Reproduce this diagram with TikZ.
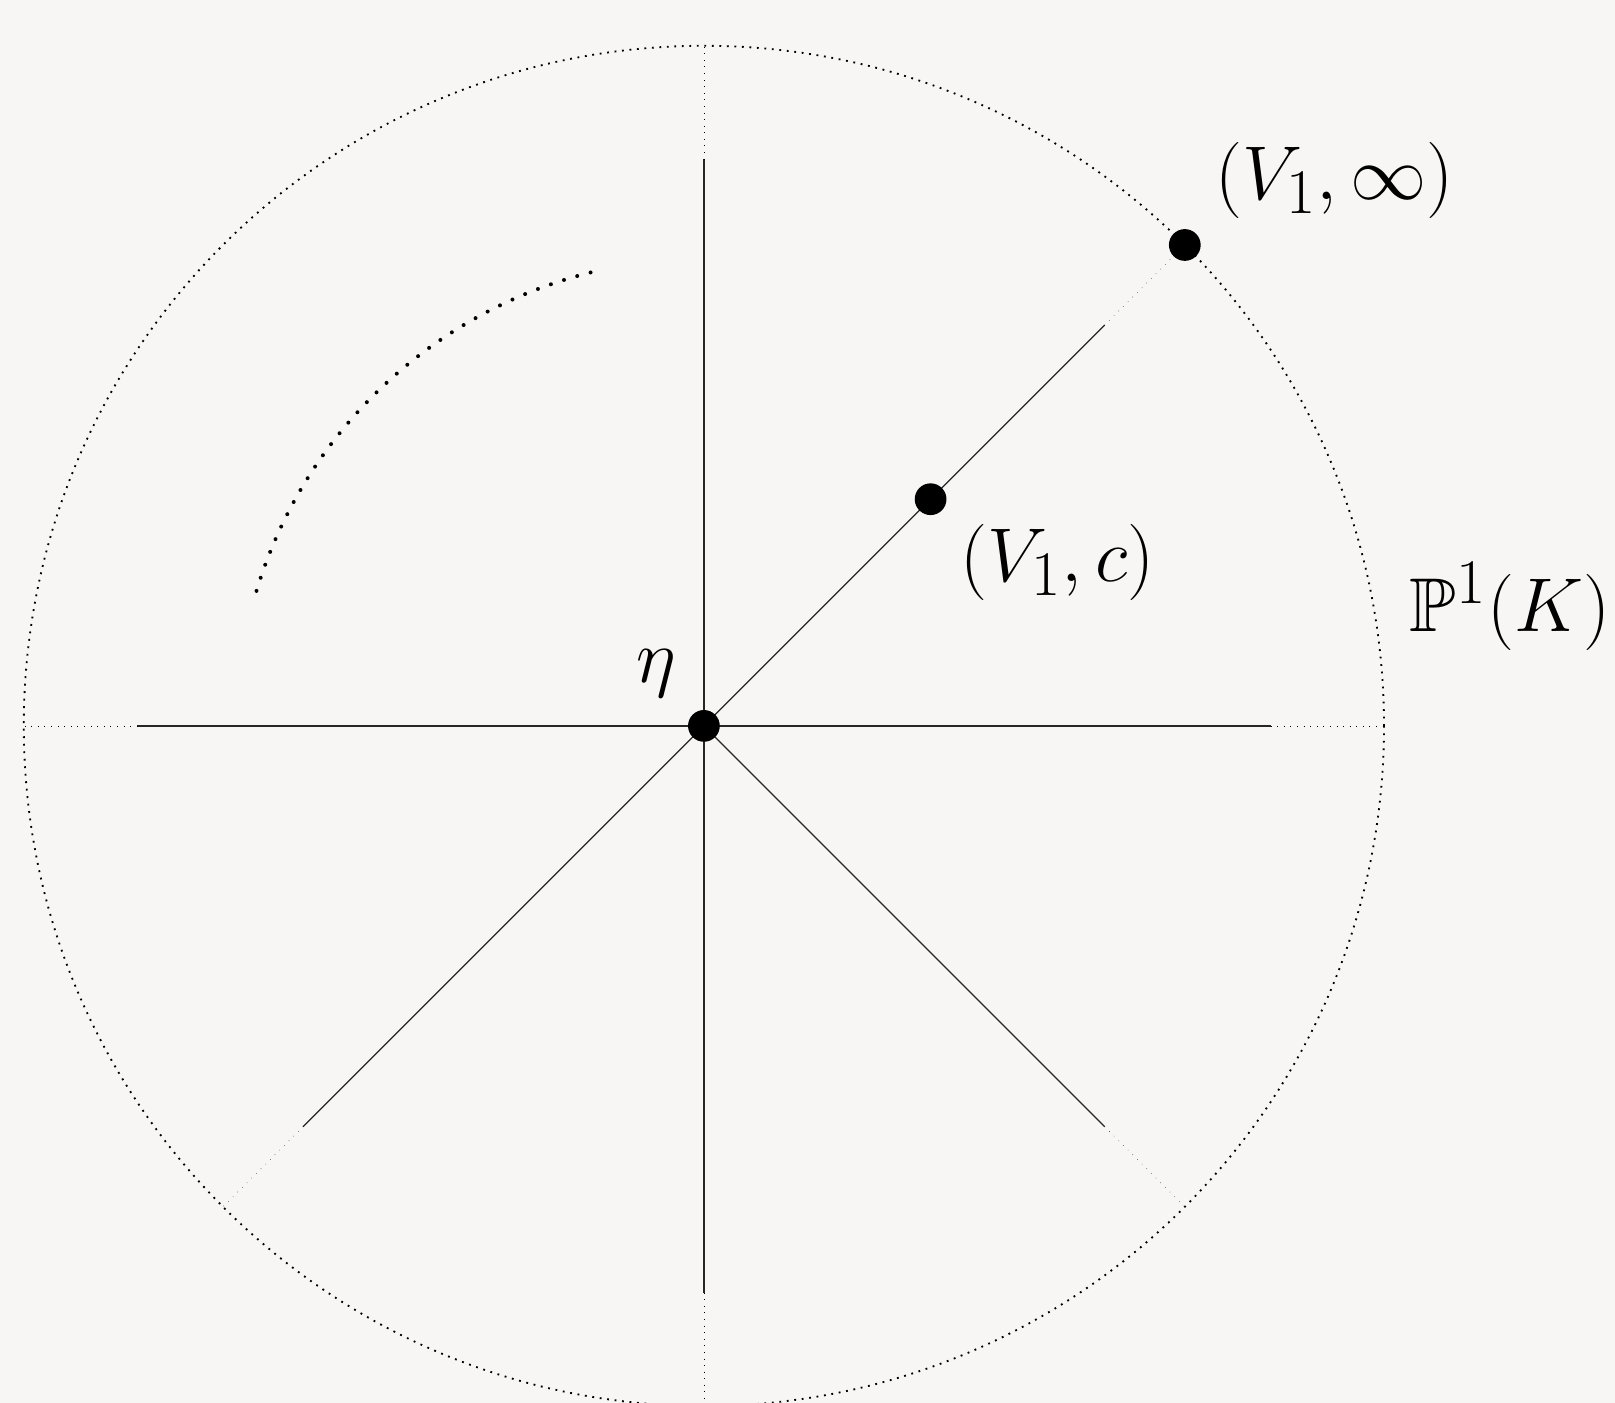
\documentclass[tikz,border=0pt]{standalone}
\usepackage{amssymb}
\usetikzlibrary{positioning}
\definecolor{PageTone}{HTML}{F7F6F4}

\begin{document}
\begin{tikzpicture}[scale=2.6,
  rim/.style={draw=black,line width=0.6pt,dash pattern=on 0.6pt off 1.85pt},
  ray/.style={draw=black!85,line width=0.4pt},
  rayend/.style={draw=black,line width=0.15pt,dotted},
  trail/.style={draw=black,line width=1.3pt,line cap=round,dash pattern=on 0pt off 4.5pt},
  dot/.style={circle,fill=black,inner sep=0pt,minimum size=0.364cm},
  lbl/.style={font=\Huge,inner sep=3.33pt}
]
\fill[PageTone] (-3.105,-2.986) rectangle (4.019,3.202);
\useasboundingbox (-3.105,-2.986) rectangle (4.019,3.202);
\clip (-3.105,-2.986) rectangle (4.019,3.202);
\coordinate (O) at (0,0);
\coordinate (E) at (0:3);
\draw[rim] (O) circle (3);
% rays: solid part, then a faint dotted end
\foreach \ang in {0,45,90,180,225,270,315} {
  \draw[ray] (O) -- (\ang:2.5);
  \draw[rayend] (\ang:2.5) -- (\ang:3);
}
\draw[trail] (-0.5,2) arc[start angle=104.04,end angle=164.5,radius=2.0616];
\node[dot] (eta) at (O) {};
\node[dot] (c) at (45:1.4142) {};
\node[dot] (inf) at (45:3) {};
\node[lbl,above left=2pt and 1.7pt of eta] (etalbl) {$\eta$};
\node[lbl,below right=0.8pt and 2.5pt of c] (clbl) {$(V_1,c)$};
\node[lbl,above right=1.4pt and 2.7pt of inf] (inflbl) {$(V_1,\infty)$};
\node[lbl,above right=21.2pt and 4.9pt of E] (plbl) {$\mathbb{P}^1(K)$};
\end{tikzpicture}
\end{document}
